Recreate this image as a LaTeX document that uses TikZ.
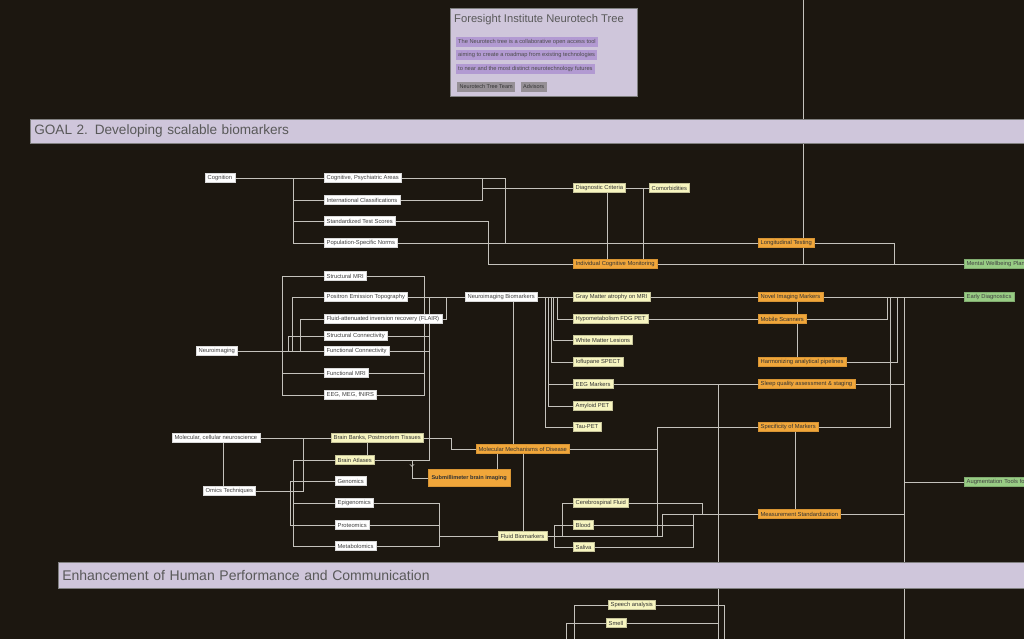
\documentclass[tikz,border=0pt]{standalone}
\usepackage{fontspec}
\setmainfont{Liberation Sans}
\usepackage{tikz}
\usetikzlibrary{backgrounds}
\usetikzlibrary{decorations.markings}
\usetikzlibrary{positioning}
\definecolor{bgc}{RGB}{28,23,16}
\definecolor{lnk}{RGB}{196,194,188}
\definecolor{lav}{RGB}{207,198,219}
\definecolor{lavd}{RGB}{178,154,210}
\definecolor{btng}{RGB}{150,144,150}
\definecolor{ylw}{RGB}{247,245,192}
\definecolor{orng}{RGB}{240,166,58}
\definecolor{grn}{RGB}{152,204,132}
\tikzset{side/.style={rectangle,inner xsep=2.5pt,inner ysep=0pt,minimum height=9pt,anchor=west,font=\fontsize{5.8}{6.5}\selectfont,line width=0.3pt}}
\tikzset{wside/.style={side,fill=white,draw=white!85!black,text=black!75}}
\tikzset{yside/.style={side,fill=ylw,draw=ylw!80!black,text=black!80}}
\tikzset{oside/.style={side,fill=orng,draw=orng!90!black,text=black!80}}
\tikzset{gside/.style={side,fill=grn,draw=grn!85!black,text=black!75}}
\tikzset{band/.style={rectangle,fill=lav,draw=gray,line width=0.6pt,anchor=north west,align=left,inner xsep=4pt,text=black!65,font=\fontsize{14}{16}\selectfont}}
\tikzset{hl/.style={rectangle,fill=lavd,inner xsep=2pt,inner ysep=0pt,minimum height=10pt,text=black!70,font=\fontsize{5.7}{6.5}\selectfont}}
\tikzset{btn/.style={rectangle,fill=btng,inner xsep=2.5pt,inner ysep=0pt,minimum height=10pt,text=black!80,font=\fontsize{5.5}{6.5}\selectfont}}
\tikzset{link/.style={draw=lnk,line width=0.8pt}}

\begin{document}
\begin{tikzpicture}[x=1pt,y=-1pt]
\useasboundingbox (0,0) rectangle (1024,639);

% header card
\node[rectangle,fill=lav,draw=gray,line width=0.6pt,minimum width=187pt,minimum height=88pt,anchor=north west] (info) at (450,8) {};
\node[anchor=west,inner sep=0pt,text=black!65,font=\fontsize{11.2}{13}\selectfont] (ttl) at (454,20) {Foresight Institute Neurotech Tree};
\node[hl,anchor=west] (hl1) at (456,42) {The Neurotech tree is a collaborative open access tool};
\node[hl,below=3pt of hl1.south west,anchor=north west] (hl2) {aiming to create a roadmap from existing technologies};
\node[hl,below=3pt of hl2.south west,anchor=north west] (hl3) {to near and the most distinct neurotechnology futures};
\node[btn,anchor=west] (team) at (457,87) {Neurotech Tree Team};
\node[btn,right=5pt of team] (adv) {Advisors};

% goal banners
\node[band,minimum height=24pt,text width=992pt,font=\fontsize{13.6}{16}\selectfont] (goal) at (30,119) {GOAL 2. Developing scalable biomarkers};
\node[band,minimum height=26pt,text width=964pt] (enh) at (58,562) {Enhancement of Human Performance and Communication};

% cognition
\node[wside] (cog) at (205,178) {Cognition};
\node[wside] (cpa) at (324,178) {Cognitive, Psychiatric Areas};
\node[wside] (icl) at (324,200) {International Classifications};
\node[wside] (sts) at (324,221) {Standardized Test Scores};
\node[wside] (psn) at (324,243) {Population-Specific Norms};
\node[yside] (dcrit) at (573,188) {Diagnostic Criteria};
\node[yside] (comor) at (649,188) {Comorbidities};
\node[oside] (icm) at (573,264) {Individual Cognitive Monitoring};
\node[oside] (long) at (758,243) {Longitudinal Testing};
\node[gside,text width=70pt,align=left] (mwb) at (964,264) {Mental Wellbeing Plan};

% neuroimaging
\node[wside] (nimg) at (196,351) {Neuroimaging};
\node[wside] (smri) at (324,276) {Structural MRI};
\node[wside] (pet) at (324,297) {Positron Emission Topography};
\node[wside] (flair) at (324,319) {Fluid-attenuated inversion recovery (FLAIR)};
\node[wside] (scon) at (324,336) {Structural Connectivity};
\node[wside] (fcon) at (324,351) {Functional Connectivity};
\node[wside] (fmri) at (324,373) {Functional MRI};
\node[wside] (eeg) at (324,395) {EEG, MEG, fNIRS};
\node[wside] (nb) at (465,297) {Neuroimaging Biomarkers};
\node[yside] (gma) at (573,297) {Gray Matter atrophy on MRI};
\node[yside] (hypo) at (573,319) {Hypometabolism FDG PET};
\node[yside] (wml) at (573,340) {White Matter Lesions};
\node[yside] (iofl) at (573,362) {Ioflupane SPECT};
\node[yside] (eegm) at (573,384) {EEG Markers};
\node[yside] (amyl) at (573,406) {Amyloid PET};
\node[yside] (tau) at (573,427) {Tau-PET};
\node[oside] (novel) at (758,297) {Novel Imaging Markers};
\node[oside] (mobile) at (758,319) {Mobile Scanners};
\node[oside] (harm) at (758,362) {Harmonizing analytical pipelines};
\node[oside] (sleep) at (758,384) {Sleep quality assessment \& staging};
\node[oside] (spec) at (758,427) {Specificity of Markers};
\node[oside] (mstd) at (758,514) {Measurement Standardization};
\node[gside] (early) at (964,297) {Early Diagnostics};
\node[gside,text width=70pt,align=left] (aug) at (964,482) {Augmentation Tools fo};

% molecular
\node[wside] (mcn) at (172,438) {Molecular, cellular neuroscience};
\node[wside] (omics) at (203,491) {Omics Techniques};
\node[yside] (bbank) at (331,438) {Brain Banks, Postmortem Tissues};
\node[yside] (batl) at (335,460) {Brain Atlases};
\node[wside] (gen) at (335,481) {Genomics};
\node[wside] (epi) at (335,503) {Epigenomics};
\node[wside] (prot) at (335,525) {Proteomics};
\node[wside] (meta) at (335,546) {Metabolomics};
\node[oside] (mmd) at (476,449) {Molecular Mechanisms of Disease};
\node[oside,font=\fontsize{5.6}{6}\selectfont\bfseries,minimum width=82pt,minimum height=17pt] (sub) at (428,478) {Submillimeter brain imaging};
\node[yside] (fluid) at (498,536) {Fluid Biomarkers};
\node[yside] (csf) at (573,503) {Cerebrospinal Fluid};
\node[yside] (blood) at (573,525) {Blood};
\node[yside] (saliva) at (573,547) {Saliva};

% enhancement
\node[yside] (speech) at (608,605) {Speech analysis};
\node[yside] (smell) at (606,623) {Smell};

\coordinate (up) at (803,0);
\coordinate (dn1) at (718,639);
\coordinate (dn2) at (904,639);
\coordinate (sp1) at (574,639);
\coordinate (sp2) at (724,639);
\coordinate (sm1) at (566,639);

\begin{scope}[on background layer]
\fill[bgc] (0,0) rectangle (1024,639);
\begin{scope}[link]
 \draw (cog.east) -- (cpa.west);
 \draw (cog.east) -- (293,178) |- (icl.west);
 \draw (cog.east) -- (293,178) |- (sts.west);
 \draw (cog.east) -- (293,178) |- (psn.west);
 \draw (cpa.east) -| (505,243) -- (long.west);
 \draw (cpa.east) -- (482,178) |- (dcrit.west);
 \draw (icl.east) -| (482,188) -- (dcrit.west);
 \draw (sts.east) -| (488,264) -- (icm.west);
 \draw (psn.east) -| (488,264) -- (icm.west);
 \draw (psn.east) -- (long.west);
 \draw (dcrit.east) -- (comor.west);
 \draw ([xshift=8pt]dcrit.south) -- ([xshift=8pt]dcrit.south |- icm.north);
 \draw (comor.west) -| (643,264);
 \draw (icm.east) -- (mwb.west);
 \draw (long.east) -| (894,264) -- (mwb.west);
 \draw (up) -- (up |- mwb.west);

 \draw (nimg.east) -- (fcon.west);
 \draw (nimg.east) -- (282,351) |- (smri.west);
 \draw (nimg.east) -- (282,351) |- (fmri.west);
 \draw (nimg.east) -- (282,351) |- (eeg.west);
 \draw (nimg.east) -- (292,351) |- (pet.west);
 \draw (nimg.east) -- (300,351) |- (flair.west);
 \draw (nimg.east) -- (288,351) |- (scon.west);
 \draw (smri.east) -| (424,297) -- (nb.west);
 \draw (fmri.east) -| (424,297) -- (nb.west);
 \draw (eeg.east) -| (424,297) -- (nb.west);
 \draw (pet.east) -- (nb.west);
 \draw (flair.east) -| (446,297) -- (nb.west);
 \draw (scon.east) -| (429,297) -- (nb.west);
 \draw (fcon.east) -| (429,297) -- (nb.west);
 \draw (batl.east) -| (429,297) -- (nb.west);
 \draw[postaction={decorate},decoration={markings,mark=at position 0.62 with {\arrow{>}}}] (batl.east) -| (412,478) -- (sub.west);

 \draw (nb.east) -- (gma.west);
 \draw (nb.east) -- (557,297) |- (hypo.west);
 \draw (nb.east) -- (553,297) |- (wml.west);
 \draw (nb.east) -- (551,297) |- (iofl.west);
 \draw (nb.east) -- (548,297) |- (eegm.west);
 \draw (nb.east) -- (548,297) |- (amyl.west);
 \draw (nb.east) -- (545,297) |- (tau.west);
 \draw (nb.south -| 513,0) -- (513,0 |- mmd.north);
 \draw (gma.east) -- (novel.west);
 \draw (novel.east) -- (early.west);
 \draw (hypo.east) -- (mobile.west);
 \draw (eegm.east) -- (sleep.west);
 \draw (eegm.east) -| (dn1);
 \draw (797,0 |- novel.south) -- (797,0 |- harm.north);
 \draw (mobile.east) -| (887,297) -- (early.west);
 \draw (harm.east) -| (897,297) -- (early.west);
 \draw (spec.east) -| (890,297) -- (early.west);
 \draw (sleep.east) -| (904,297) -- (early.west);
 \draw (mstd.east) -| (904,297);
 \draw (dn2) -- (904,297);
 \draw (aug.west) -- (aug.west -| dn2);
 \draw (795,0 |- spec.south) -- (795,0 |- mstd.north);

 \draw (mcn.east) -- (bbank.west);
 \draw (223,0 |- mcn.south) -- (223,0 |- omics.north);
 \draw (omics.east) -- (303,491) |- (bbank.west);
 \draw (omics.east) -- (293,491) |- (batl.west);
 \draw (omics.east) -- (290,491) |- (gen.west);
 \draw (omics.east) -- (293,491) |- (epi.west);
 \draw (omics.east) -- (290,491) |- (prot.west);
 \draw (omics.east) -- (293,491) |- (meta.west);
 \draw (367,0 |- bbank.south) -- (367,0 |- batl.north);
 \draw (bbank.east) -| (451,449) -- (mmd.west);
 \draw (497,0 |- mmd.south) -- (497,0 |- sub.north);
 \draw (523,0 |- mmd.south) -- (523,0 |- fluid.north);
 \draw (epi.east) -| (439,536) -- (fluid.west);
 \draw (prot.east) -| (439,536) -- (fluid.west);
 \draw (meta.east) -| (439,536) -- (fluid.west);
 \draw (mmd.east) -| (657,427) -- (spec.west);
 \draw (fluid.east) -| (657,427) -- (spec.west);
 \draw (fluid.east) -| (662,514) -- (mstd.west);
 \draw (fluid.east) -- (562,536) |- (csf.west);
 \draw (fluid.east) -- (554,536) |- (blood.west);
 \draw (fluid.east) -- (554,536) |- (saliva.west);
 \draw (csf.east) -| (702,514) -- (mstd.west);
 \draw (blood.east) -| (693,514) -- (mstd.west);
 \draw (saliva.east) -| (693,514) -- (mstd.west);

 \draw (sp1) |- (speech.west);
 \draw (speech.east) -| (sp2);
 \draw (sm1) |- (smell.west);
 \draw (smell.east) -- (smell.east -| dn1);
\end{scope}
\end{scope}
\end{tikzpicture}
\end{document}
